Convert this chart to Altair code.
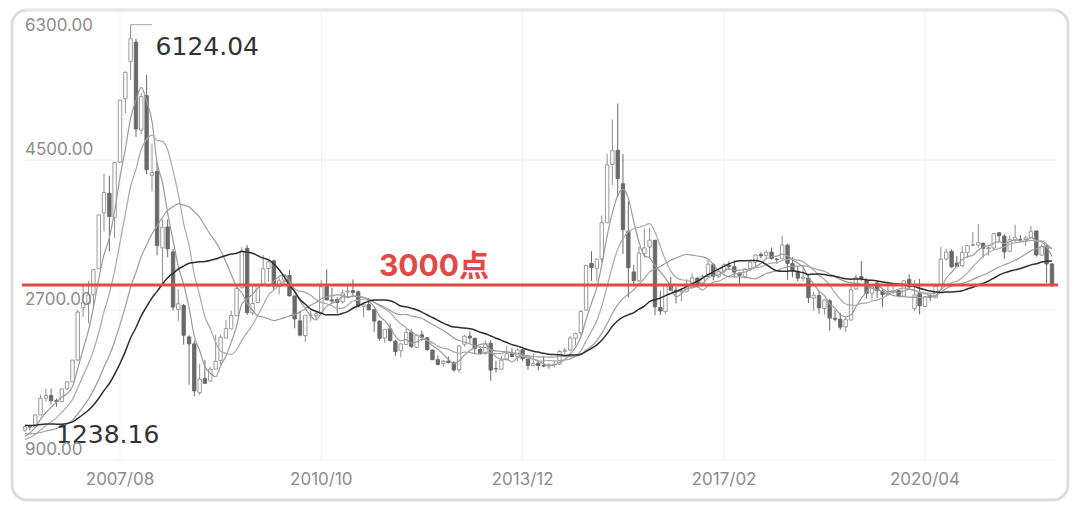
import altair as alt
import pandas as pd

# ---------------- data (monthly K-line, 2006/02 .. 2022/04) ----------------
first_month = "2006-02-01"

open_ = [
    1258, 1299, 1299, 1441, 1642, 1673, 1613, 1601, 1753, 1838, 2100,            # 2006/02-12
    2728, 2779, 2883, 3196, 3864, 4101, 3811, 4474, 5236, 5683, 5914, 4858,      # 2007
    5273, 4317, 4363, 3445, 3697, 3397, 2707, 2755, 2377, 2293, 1707, 1878,      # 2008
    1849, 1991, 2092, 2363, 2473, 2631, 2967, 3440, 2665, 2789, 3002, 3197,      # 2009
    3289, 2983, 3060, 3114, 2869, 2570, 2392, 2637, 2630, 2660, 2980, 2821,      # 2010
    2825, 2799, 2917, 2932, 2918, 2742, 2764, 2704, 2567, 2363, 2474, 2326,      # 2011
    2212, 2286, 2433, 2252, 2402, 2366, 2219, 2104, 2056, 2086, 2068, 1983,      # 2012
    2289, 2386, 2361, 2226, 2176, 2300, 1996, 1990, 2104, 2175, 2140, 2222,      # 2013
    2112, 2031, 2062, 2035, 2026, 2038, 2050, 2204, 2219, 2361, 2426, 2699,      # 2014
    3258, 3200, 3313, 3747, 4448, 4616, 4215, 3643, 3157, 3052, 3379, 3456,      # 2015
    3537, 2731, 2680, 3008, 2939, 2917, 2924, 2973, 3083, 3007, 3101, 3244,      # 2016
    3105, 3159, 3234, 3220, 3143, 3103, 3198, 3274, 3367, 3356, 3396, 3310,      # 2017
    3314, 3478, 3256, 3163, 3081, 3084, 2842, 2874, 2719, 2811, 2599, 2590,      # 2018
    2497, 2580, 2954, 3101, 3053, 2901, 3024, 2926, 2884, 2912, 2933, 2867,      # 2019
    3067, 2716, 2899, 2743, 2869, 2845, 3004, 3312, 3404, 3262, 3232, 3388,      # 2020
    3474, 3479, 3503, 3436, 3444, 3627, 3586, 3405, 3540, 3548, 3545, 3570,      # 2021
    3649, 3358, 3470, 3253,                                                      # 2022
]
high = [
    1307, 1305, 1445, 1685, 1757, 1757, 1636, 1753, 1840, 2100, 2698,
    2994, 3050, 3189, 3842, 4335, 4312, 4478, 5219, 5562, 6124.04, 5956, 5303,
    5522, 4695, 4473, 3786, 3786, 3433, 2952, 2772, 2398, 2333, 2050, 2101,
    2016, 2403, 2403, 2580, 2688, 2999, 3454, 3478, 2997, 3008, 3361, 3306,
    3306, 3087, 3131, 3182, 2872, 2688, 2638, 2689, 2681, 3060, 3186, 2964,
    2853, 2944, 3018, 3067, 2935, 2771, 2827, 2716, 2575, 2463, 2537, 2340,
    2300, 2478, 2476, 2414, 2453, 2374, 2226, 2155, 2099, 2140, 2090, 2276,
    2399, 2444, 2363, 2263, 2335, 2335, 2092, 2149, 2270, 2242, 2243, 2260,
    2112, 2177, 2080, 2146, 2061, 2087, 2219, 2248, 2391, 2423, 2699, 3239,
    3406, 3311, 3835, 4572, 4986, 5178, 4572, 4006, 3243, 3459, 3679, 3684,
    3539, 2934, 3018, 3097, 2979, 2964, 3070, 3141, 3094, 3128, 3301, 3265,
    3174, 3261, 3284, 3296, 3157, 3193, 3280, 3366, 3391, 3418, 3451, 3326,
    3587, 3495, 3334, 3220, 3219, 3131, 2916, 2915, 2827, 2831, 2704, 2666,
    2618, 2997, 3129, 3288, 3079, 3010, 3048, 2951, 3042, 3001, 2937, 3063,
    3128, 3058, 3074, 2867, 2907, 2999, 3458, 3434, 3425, 3347, 3466, 3474,
    3637, 3732, 3506, 3482, 3625, 3629, 3610, 3591, 3723, 3600, 3590, 3708,
    3651, 3490, 3479, 3261,
]
low = [
    1238.16, 1261, 1298, 1441, 1600, 1571, 1541, 1595, 1737, 1837, 2089,
    2617, 2541, 2723, 3195, 3644, 3405, 3563, 4470, 5062, 5462, 4778, 4812,
    4330, 4123, 3357, 2990, 3333, 2693, 2566, 2284, 1802, 1665, 1679, 1814,
    1844, 1991, 2037, 2362, 2473, 2627, 2960, 2640, 2639, 2784, 2996, 3039,
    2934, 2890, 2985, 2861, 2481, 2383, 2319, 2566, 2573, 2657, 2823, 2767,
    2661, 2777, 2838, 2880, 2729, 2611, 2703, 2437, 2333, 2307, 2319, 2149,
    2132, 2280, 2242, 2242, 2326, 2212, 2100, 2033, 2019, 2061, 1960, 1949,
    2262, 2309, 2184, 2161, 2167, 1850, 1951, 1987, 2094, 2134, 2083, 2086,
    1984, 2031, 1975, 2013, 1992, 2010, 2039, 2176, 2211, 2273, 2393, 2694,
    3049, 3049, 3268, 3743, 4198, 4051, 3373, 2851, 2983, 3039, 3328, 3328,
    2638, 2638, 2650, 2929, 2780, 2807, 2932, 2950, 2968, 2998, 3097, 3056,
    3086, 3135, 3180, 3092, 3016, 3077, 3168, 3205, 3317, 3324, 3304, 3254,
    3314, 3062, 3091, 3041, 3041, 2782, 2691, 2653, 2644, 2449, 2562, 2462,
    2440, 2580, 2939, 3049, 2838, 2822, 2844, 2733, 2880, 2891, 2858, 2857,
    2943, 2686, 2647, 2743, 2810, 2845, 3000, 3292, 3202, 3218, 3209, 3325,
    3465, 3448, 3328, 3355, 3417, 3512, 3313, 3395, 3515, 3515, 3467, 3562,
    3341, 3356, 3024, 2975,
]
close = [
    1299.03, 1298.30, 1440.22, 1641.30, 1672.21, 1612.73, 1601.15, 1752.42, 1837.99, 2099.29, 2675.47,
    2786.34, 2881.07, 3183.98, 3841.27, 4109.65, 3820.70, 4471.03, 5218.83, 5552.30, 5954.77, 4871.78, 5261.56,
    4383.39, 4348.54, 3472.71, 3693.11, 3433.35, 2736.10, 2775.72, 2397.37, 2293.78, 1728.79, 1871.16, 1820.81,
    1990.66, 2082.85, 2373.21, 2477.57, 2632.93, 2959.36, 3412.06, 2667.75, 2779.43, 2995.85, 3195.30, 3277.14,
    2989.29, 3051.94, 3109.10, 2870.61, 2592.15, 2398.37, 2637.50, 2638.80, 2655.66, 2978.84, 2820.18, 2808.08,
    2790.69, 2905.05, 2928.11, 2911.51, 2743.47, 2762.08, 2701.73, 2567.34, 2359.22, 2468.25, 2333.41, 2199.42,
    2292.61, 2428.49, 2262.79, 2396.32, 2372.23, 2225.43, 2103.63, 2047.52, 2086.17, 2068.88, 1980.12, 2269.13,
    2385.42, 2365.59, 2236.62, 2177.91, 2300.60, 1979.21, 1993.80, 2098.38, 2174.67, 2141.61, 2220.50, 2115.98,
    2033.08, 2056.30, 2033.31, 2026.36, 2039.21, 2048.33, 2201.56, 2217.20, 2363.87, 2420.18, 2682.84, 3234.68,
    3210.36, 3310.30, 3747.90, 4441.66, 4611.74, 4277.22, 3663.73, 3205.99, 3052.78, 3382.56, 3445.40, 3539.18,
    2737.60, 2687.98, 3003.92, 2938.32, 2916.62, 2929.61, 2979.34, 3085.49, 3004.70, 3100.49, 3250.04, 3103.64,
    3159.17, 3241.73, 3222.51, 3154.66, 3117.18, 3192.43, 3273.03, 3360.81, 3348.94, 3393.34, 3317.19, 3307.17,
    3480.83, 3259.41, 3168.90, 3082.23, 3095.47, 2847.42, 2876.40, 2725.25, 2821.35, 2602.78, 2588.19, 2493.90,
    2584.57, 2940.95, 3090.76, 3078.34, 2898.70, 2978.88, 2932.51, 2886.24, 2905.19, 2929.06, 2871.98, 3050.12,
    2976.53, 2880.30, 2750.30, 2860.08, 2852.35, 2984.67, 3310.01, 3395.68, 3218.05, 3224.53, 3391.76, 3473.07,
    3483.07, 3509.08, 3441.91, 3446.86, 3615.48, 3591.20, 3397.36, 3543.94, 3568.17, 3547.34, 3563.89, 3639.78,
    3361.44, 3462.31, 3252.20, 3000.00,
]

# closes before the visible range (2003/09 .. 2006/01), only used by the moving averages
prior_first_month = "2003-09-01"
prior_close = [
    1367.16, 1348.30, 1397.22, 1497.04,
    1590.73, 1675.07, 1741.62, 1595.59, 1555.91, 1399.16, 1386.20, 1342.06, 1396.70, 1320.54, 1340.77, 1266.50,
    1191.82, 1306.00, 1181.24, 1159.15, 1060.74, 1080.94, 1083.03, 1162.80, 1155.61, 1092.82, 1099.26, 1161.06,
    1258.05,
]

ma_windows = [5, 10, 20, 30]
y_ticks = [900, 2700, 4500, 6300]
x_tick_labels = ["2007/08", "2010/10", "2013/12", "2017/02", "2020/04"]
level = 3000
level_label = "3000点"

# ---------------- tables ----------------
dates = pd.date_range(first_month, periods=len(close), freq="MS")
kdf = pd.DataFrame({"date": dates, "open": open_, "high": high, "low": low, "close": close})

prior_dates = pd.date_range(prior_first_month, periods=len(prior_close), freq="MS")
madf = pd.DataFrame({
    "date": list(prior_dates) + list(dates),
    "close": list(prior_close) + list(close),
})

xt = pd.DataFrame({"label": x_tick_labels})
xt["date"] = pd.to_datetime(xt["label"], format="%Y/%m")

yt = pd.DataFrame({"v": y_ticks})
yt["label"] = yt["v"].map(lambda v: f"{v:.2f}")

imax = max(range(len(high)), key=lambda i: high[i])
imin = min(range(len(low)), key=lambda i: low[i])
maxdf = pd.DataFrame({"date": [dates[imax]], "end": [dates[imax] + pd.DateOffset(months=4)],
                      "v": [high[imax]], "label": [f"{high[imax]:.2f}"]})
mindf = pd.DataFrame({"date": [dates[imin]], "v": [low[imin]], "label": [f"{low[imin]:.2f}"]})
lvdf = pd.DataFrame({"v": [level], "label": [level_label]})

# ---------------- scales / styles ----------------
FONT = "Inter, 'Noto Sans CJK SC', sans-serif"
BIG_FONT = "'DejaVu Sans', sans-serif"
start_dt = alt.DateTime(year=dates[0].year, month=dates[0].month, date=1)
end_dt = alt.DateTime(year=dates[-1].year, month=dates[-1].month, date=1)
xs = alt.Scale(domain=[start_dt, end_dt], range=[13, 1040], nice=False, padding=0)
ys = alt.Scale(domain=[y_ticks[0], y_ticks[-1]], range=[450, 0], nice=False, zero=False, padding=0)

X = lambda f="date": alt.X(f"{f}:T", scale=xs, axis=None)
Y = lambda f: alt.Y(f"{f}:Q", scale=ys, axis=None)

UP = "#8f8f8f"
DOWN = "#696969"
up_test = "datum.close >= datum.open"

# gridlines
grid_h = alt.Chart(yt).mark_rule(color="#f0f0f0", strokeWidth=1).encode(
    y=Y("v"), x=alt.value(13), x2=alt.value(1044))
grid_v = alt.Chart(xt).mark_rule(color="#f0f0f0", strokeWidth=1).encode(
    x=X(), y=alt.value(0), y2=alt.value(450))

# candles
base = alt.Chart(kdf)
wick = base.mark_rule(strokeWidth=1).encode(
    x=X(), y=Y("low"), y2="high:Q",
    color=alt.condition(up_test, alt.value(UP), alt.value(DOWN)))
body = base.mark_bar(width=3.4, strokeWidth=0.9).encode(
    x=X(), y=Y("open"), y2="close:Q",
    fill=alt.condition(up_test, alt.value("#ffffff"), alt.value(DOWN)),
    stroke=alt.condition(up_test, alt.value(UP), alt.value(DOWN)))

# moving averages
ma_styles = {5: ("#9a9a9a", 1.2), 10: ("#a8a8a8", 1.2), 20: ("#9c9c9c", 1.2), 30: ("#2e2e2e", 1.5)}
ma_layers = []
for n in ma_windows:
    col, w = ma_styles[n]
    ma_layers.append(
        alt.Chart(madf)
        .transform_window(ma="mean(close)", frame=[-(n - 1), 0],
                          sort=[alt.SortField(field="date", order="ascending")])
        .transform_filter(alt.FieldGTEPredicate(field="date", gte=start_dt))
        .mark_line(color=col, strokeWidth=w, interpolate="monotone")
        .encode(x=X(), y=Y("ma"))
    )

# 3000 level
RED = "#e04a45"
lv_rule = alt.Chart(lvdf).mark_rule(color=RED, strokeWidth=3).encode(
    y=Y("v"), x=alt.value(10), x2=alt.value(1046))
lv_text = alt.Chart(lvdf).mark_text(
    align="left", baseline="alphabetic", dy=-9, font=FONT, fontSize=30, fontWeight="bold", color=RED
).encode(y=Y("v"), x=alt.value(367), text="label:N")

# extreme annotations
max_rule = alt.Chart(maxdf).mark_rule(color="#a8a8a8", strokeWidth=1).encode(
    x=X(), x2="end:T", y=Y("v"))
max_text = alt.Chart(maxdf).mark_text(
    align="left", baseline="alphabetic", dx=25, dy=30, font=BIG_FONT, fontSize=25, color="#333333"
).encode(x=X(), y=Y("v"), text="label:N")
min_text = alt.Chart(mindf).mark_text(
    align="left", baseline="alphabetic", dx=31, dy=11, font=BIG_FONT, fontSize=25, color="#333333"
).encode(x=X(), y=Y("v"), text="label:N")

# axis labels (drawn inside the frame)
ylab = alt.Chart(yt).transform_filter(f"datum.v < {y_ticks[-1]}").mark_text(
    align="left", baseline="alphabetic", dy=-5, font=FONT, fontSize=17, color="#8c8c8c"
).encode(y=Y("v"), x=alt.value(13), text="label:N")
ylab_top = alt.Chart(yt).transform_filter(f"datum.v >= {y_ticks[-1]}").mark_text(
    align="left", baseline="alphabetic", dy=21, font=FONT, fontSize=17, color="#8c8c8c"
).encode(y=Y("v"), x=alt.value(13), text="label:N")
xlab = alt.Chart(xt).mark_text(
    align="center", baseline="alphabetic", font=FONT, fontSize=17, color="#8c8c8c"
).encode(x=X(), y=alt.value(475), text="label:N")

chart = alt.layer(
    grid_h, grid_v, wick, body, *ma_layers, lv_rule, lv_text,
    max_rule, max_text, min_text, ylab, ylab_top, xlab
).properties(
    width=1056, height=490,
    autosize=alt.AutoSizeParams(type="none"),
    padding={"left": 4, "top": 2, "right": 4, "bottom": 2},
    background="#ffffff",
).configure_view(
    stroke="#dddddd", strokeWidth=3, cornerRadius=15, fill="#ffffff"
)

chart.save("out.html", embed_options={"renderer": "svg", "actions": False})
